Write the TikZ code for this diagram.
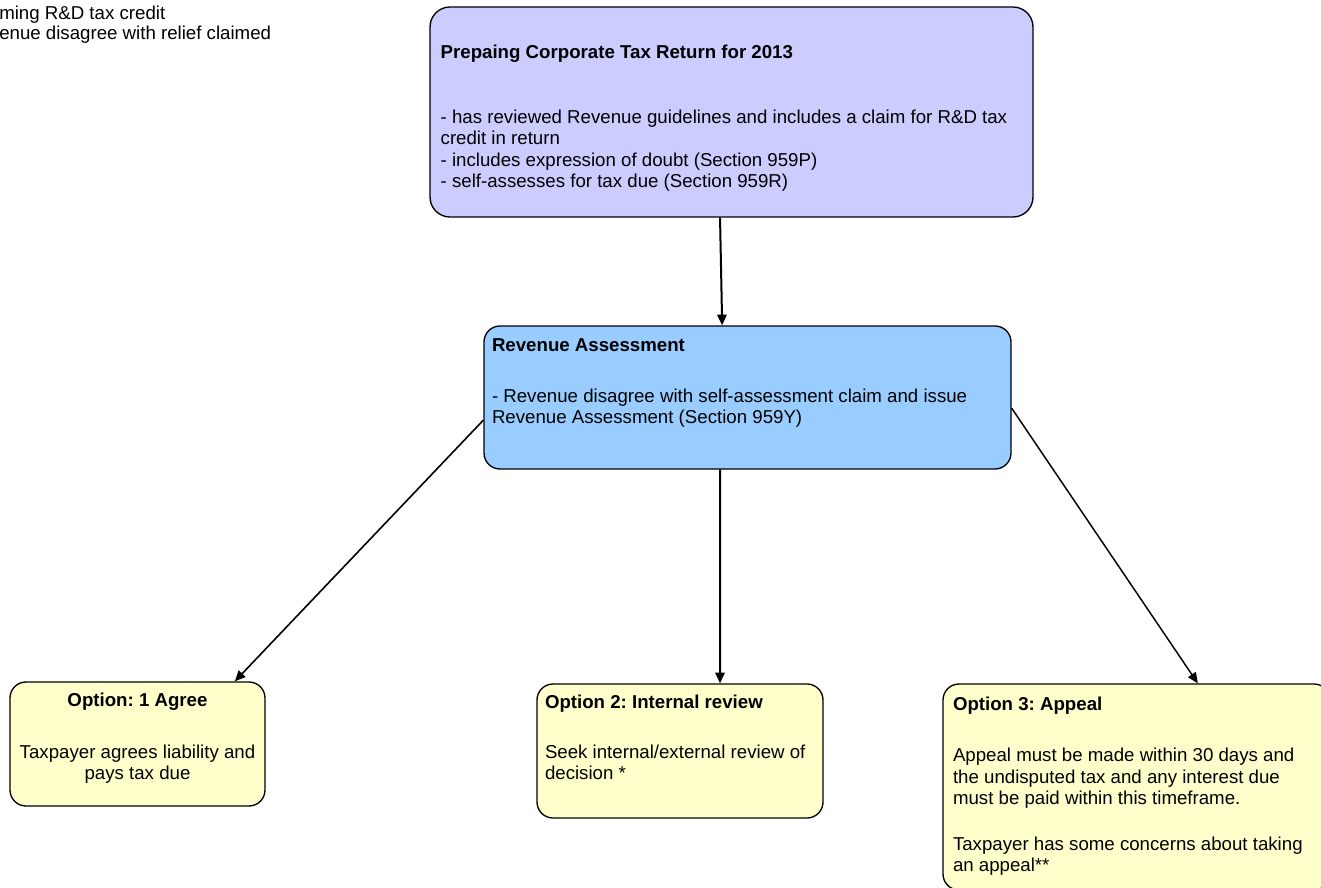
\documentclass[tikz,border=0pt]{standalone}
\usepackage{fontspec}
\setmainfont{Liberation Sans}
\usetikzlibrary{arrows.meta}
\definecolor{returnlilac}{HTML}{CCCCFF}
\definecolor{assessblue}{HTML}{99CCFF}
\definecolor{optionyellow}{HTML}{FFFFCC}
\frenchspacing
% width, height, top gap, left gap, text
\newcommand{\cardtext}[5]{\parbox[c][#2][t]{#1}{\vspace*{#3}\raggedright\leftskip=#4 #5}}
\newcommand{\cardcentre}[4]{\parbox[c][#2][t]{#1}{\vspace*{#3}\centering #4}}
\begin{document}
\begin{tikzpicture}[x=0.75pt,y=-0.75pt,
	card/.style={draw=black,line width=1pt,rounded corners=12pt,inner sep=0pt,font=\fontsize{14}{16.1}\selectfont},
	link/.style={line width=1.5pt,-{Triangle[length=8pt,width=7pt]}}]
	\path[use as bounding box,clip] (0,0) rectangle (1321,888);
	\node[anchor=west,inner sep=0pt,font=\fontsize{14}{16.1}\selectfont] (note1) at (-1,14.5) {ming R\&D tax credit};
	\node[anchor=west,inner sep=0pt,font=\fontsize{14}{16.1}\selectfont] (note2) at (-1,34.5) {enue disagree with relief claimed};
	\node[card,fill=returnlilac,rounded corners=15pt] (return) at (731.5,112)
		{\cardtext{452.25pt}{157.5pt}{28.5pt}{8pt}{\textbf{Prepaing Corporate Tax Return for 2013}\\[32.5pt]
		- has reviewed Revenue guidelines and includes a claim for R\&D tax\\ credit in return\\
		- includes expression of doubt (Section 959P)\\
		- self-assesses for tax due (Section 959R)}};
	\node[card,fill=assessblue] (assess) at (747.5,397.5)
		{\cardtext{395.25pt}{107.25pt}{9.5pt}{6pt}{\textbf{Revenue Assessment}\\[22pt]
		- Revenue disagree with self-assessment claim and issue\\ Revenue Assessment (Section 959Y)}};
	\node[card,fill=optionyellow] (agree) at (137.5,744)
		{\cardcentre{191.25pt}{93pt}{8pt}{\textbf{Option: 1 Agree}\\[23pt]
		Taxpayer agrees liability and\\ pays tax due}};
	\node[card,fill=optionyellow] (review) at (680,751)
		{\cardtext{214.5pt}{100.5pt}{8pt}{6pt}{\textbf{Option 2: Internal review}\\[21.5pt]
		Seek internal/external review of\\ decision *}};
	\node[card,fill=optionyellow] (appeal) at (1136.5,787)
		{\cardtext{290.25pt}{154.5pt}{10pt}{7.5pt}{\textbf{Option 3: Appeal}\\[22pt]
		Appeal must be made within 30 days and\\ the undisputed tax and any interest due\\ must be paid within this timeframe.\\[18pt]
		Taxpayer has some concerns about taking\\ an appeal**}};
	\draw[link] ([xshift=-8.6pt]return.south) -- ([xshift=-19pt]assess.north);
	\draw[link,line width=1.2pt] ([yshift=-17pt]assess.west) -- ([xshift=73pt]agree.north);
	\draw[link] ([xshift=-20.6pt]assess.south) -- ([xshift=30pt]review.north);
	\draw[link,line width=1.1pt] ([yshift=-8pt]assess.east) -- ([xshift=46pt]appeal.north);
\end{tikzpicture}
\end{document}
